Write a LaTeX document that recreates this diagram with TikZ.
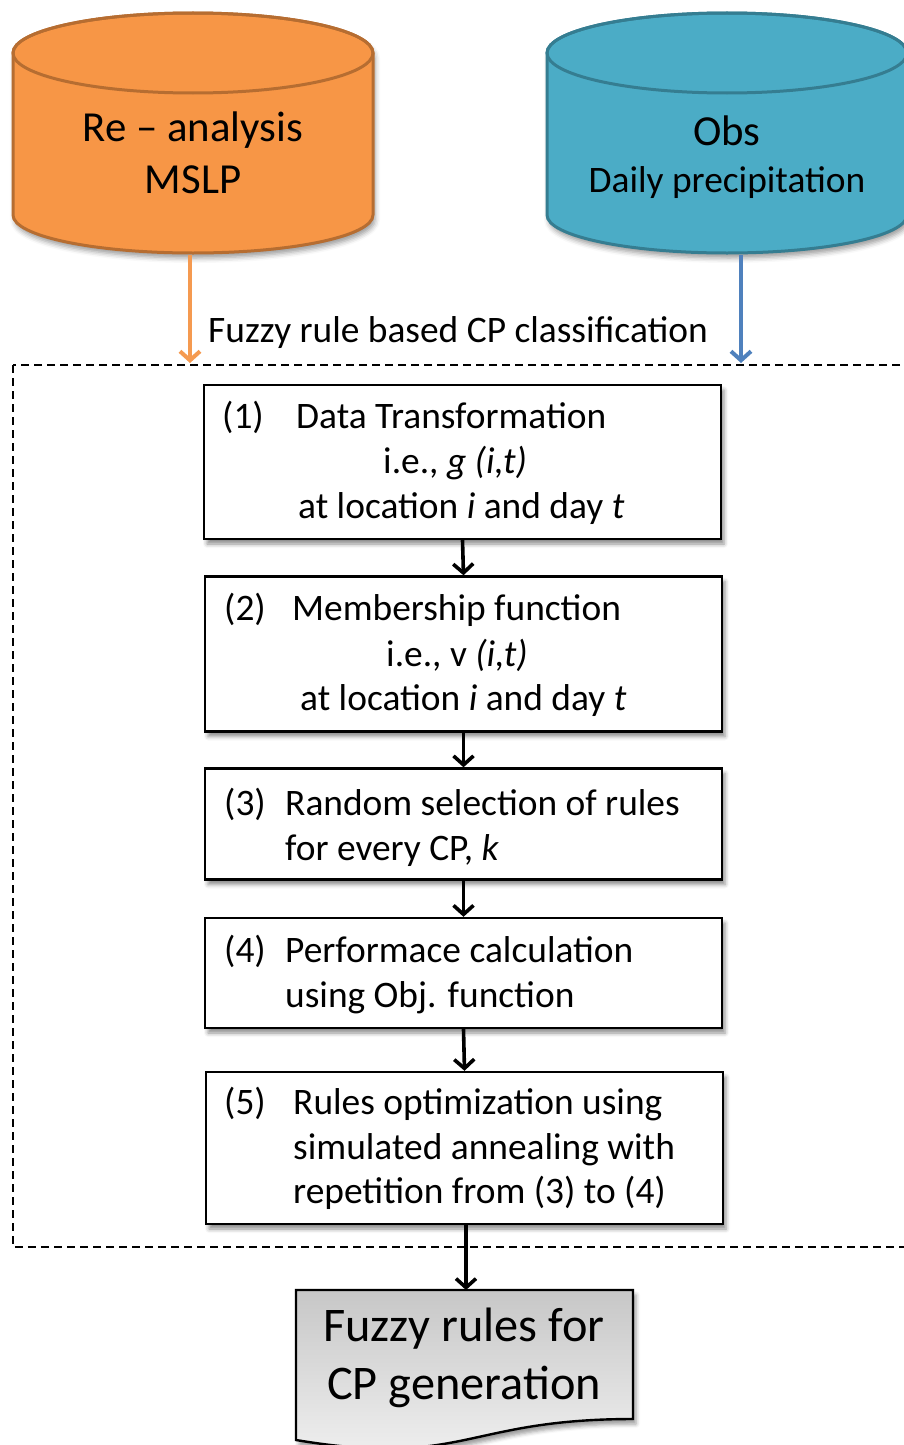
\documentclass[tikz,border=0pt]{standalone}
\usepackage{fontspec}
\setmainfont{Carlito}
\usetikzlibrary{arrows.meta,shadows.blur}
\definecolor{orfill}{HTML}{F79646}
\definecolor{ordraw}{HTML}{B66D31}
\definecolor{blfill}{HTML}{4BACC6}
\definecolor{bldraw}{HTML}{357D91}
\definecolor{orarrow}{HTML}{F59A50}
\definecolor{blarrow}{HTML}{4F81BD}
\newcommand\boxfont{\fontsize{37.4}{44}\selectfont}
\newcommand\cylfont{\fontsize{42.8}{50}\selectfont}
\newcommand\docfont{\fontsize{48.3}{58}\selectfont}
\begin{document}
\begin{tikzpicture}[x=1pt,y=-1pt,
  stepbox/.style={draw=black,line width=2.4pt,fill=white,inner sep=0pt,
    minimum width=517pt,
    blur shadow={shadow xshift=3pt,shadow yshift=-5pt,shadow blur radius=4pt,shadow opacity=45}},
  txt/.style={anchor=base west,inner sep=0pt,font=\boxfont},
  flow/.style={draw=black,line width=3.6pt,-{Straight Barb[length=9pt,width=20pt,line width=3.6pt]}},
  cyl/.style={line width=3pt,
    blur shadow={shadow xshift=2pt,shadow yshift=-5pt,shadow blur radius=5pt,shadow opacity=40}},
]
\path[use as bounding box] (0,0) rectangle (904,1445);
\clip (0,0) rectangle (904,1445);

% cylinders
\path[cyl,fill=orfill,draw=ordraw] (13,53) -- (13,215) arc[start angle=180,end angle=0,x radius=180,y radius=38]
  -- (373,53) arc[start angle=0,end angle=-180,x radius=180,y radius=40] -- cycle;
\draw[line width=3pt,draw=ordraw] (193,53) ellipse[x radius=180,y radius=40];
\node[anchor=base,inner sep=0pt,font=\cylfont] (re) at (193,141) {Re -- analysis};
\node[anchor=base,inner sep=0pt,font=\cylfont] (mslp) at (193,193) {MSLP};

\path[cyl,fill=blfill,draw=bldraw] (547,53) -- (547,215) arc[start angle=180,end angle=0,x radius=180,y radius=38]
  -- (907,53) arc[start angle=0,end angle=-180,x radius=180,y radius=40] -- cycle;
\draw[line width=3pt,draw=bldraw] (727,53) ellipse[x radius=180,y radius=40];
\node[anchor=base,inner sep=0pt,font=\cylfont] (obs) at (727,145) {Obs};
\node[anchor=base,inner sep=0pt,font=\boxfont] (daily) at (727,192) {Daily precipitation};

% dashed frame
\draw[line width=2.2pt,dash pattern=on 8pt off 5pt] (13,365) rectangle (920,1247);
\node[txt] (lab) at (208,342) {Fuzzy rule based CP classification};

\coordinate (ortop) at (190,255);
\coordinate (orend) at (190,363);
\coordinate (bltop) at (741,255);
\coordinate (blend) at (741,363);
\draw[line width=4pt,draw=orarrow,-{Straight Barb[length=9pt,width=20pt,line width=4pt]}] (ortop) -- (orend);
\draw[line width=4pt,draw=blarrow,-{Straight Barb[length=9pt,width=20pt,line width=4pt]}] (bltop) -- (blend);

% boxes
\node[stepbox,minimum height=154pt] (b1) at (462.5,462) {};
\node[stepbox,minimum height=155pt] (b2) at (463.5,654) {};
\node[stepbox,minimum height=111pt] (b3) at (463.5,824) {};
\node[stepbox,minimum height=110pt] (b4) at (463.5,973) {};
\node[stepbox,minimum height=152pt] (b5) at (464.5,1148) {};

\node[txt] (n1) at (222,428) {(1)};
\node[txt] (t1a) at (296,428) {Data Transformation};
\node[txt] (t1b) at (383,473) {i.e., \textit{g (i,t)}};
\node[txt] (t1c) at (298,518) {at location \textit{i} and day \textit{t}};

\node[txt] (n2) at (224,620) {(2)};
\node[txt] (t2a) at (292,620) {Membership function};
\node[txt] (t2b) at (386,666) {i.e., v \textit{(i,t)}};
\node[txt] (t2c) at (300,710) {at location \textit{i} and day \textit{t}};

\node[txt] (n3) at (224,815) {(3)};
\node[txt] (t3a) at (285,815) {Random selection of rules};
\node[txt] (t3b) at (285,860) {for every CP, \textit{k}};

\node[txt] (n4) at (224,962) {(4)};
\node[txt] (t4a) at (285,962) {Performace calculation};
\node[txt] (t4b) at (285,1007) {using Obj. function};

\node[txt] (n5) at (224,1114) {(5)};
\node[txt] (t5a) at (293,1114) {Rules optimization using};
\node[txt] (t5b) at (293,1159) {simulated annealing with};
\node[txt] (t5c) at (293,1203) {repetition from (3) to (4)};

% document shape
\path[draw=black,line width=2.4pt,top color=black!22,bottom color=black!5,
  blur shadow={shadow xshift=3pt,shadow yshift=-5pt,shadow blur radius=4pt,shadow opacity=40}]
  (296,1290) -- (633,1290) -- (633,1419) .. controls (464.5,1419) and (464.5,1468) .. (296,1440) -- cycle;
\coordinate (doctop) at (466,1290);
\node[anchor=base,inner sep=0pt,font=\docfont] (d1) at (464,1341) {Fuzzy rules for};
\node[anchor=base,inner sep=0pt,font=\docfont] (d2) at (464,1399) {CP generation};

% flow arrows
\draw[flow] (b1.south) -- (b2.north);
\draw[flow] (b2.south) -- (b3.north);
\draw[flow] (b3.south) -- (b4.north);
\draw[flow] (b4.south) -- (b5.north);
\draw[flow] (b5.south -| doctop) -- (doctop);
\end{tikzpicture}
\end{document}
